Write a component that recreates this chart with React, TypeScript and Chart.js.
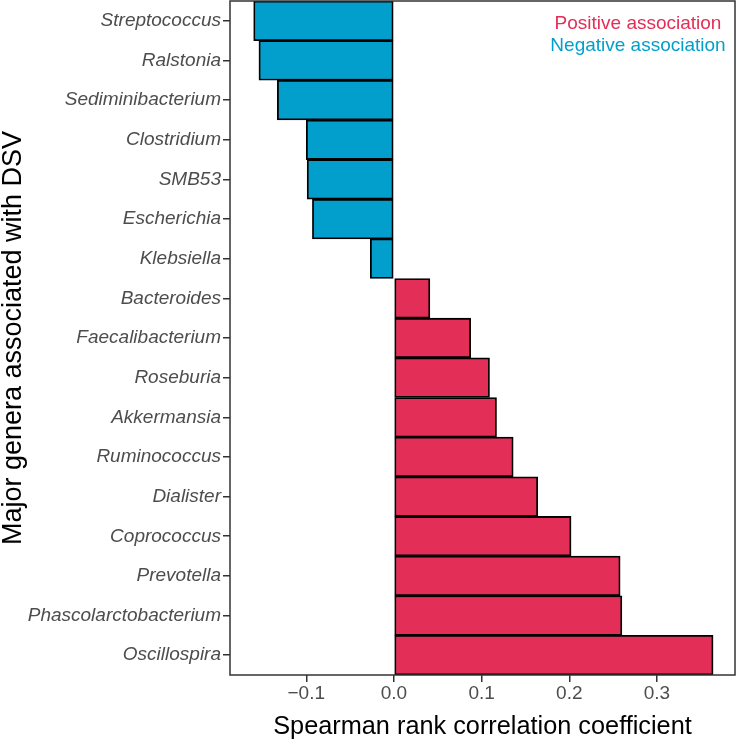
import React, { useEffect, useRef } from "react";
import { Chart, registerables } from "chart.js";

Chart.register(...registerables);

const genera: string[] = [
  "Streptococcus",
  "Ralstonia",
  "Sediminibacterium",
  "Clostridium",
  "SMB53",
  "Escherichia",
  "Klebsiella",
  "Bacteroides",
  "Faecalibacterium",
  "Roseburia",
  "Akkermansia",
  "Ruminococcus",
  "Dialister",
  "Coprococcus",
  "Prevotella",
  "Phascolarctobacterium",
  "Oscillospira",
];

const correlations: number[] = [
  -0.16, -0.154, -0.133, -0.1, -0.099, -0.093, -0.027, 0.041, 0.0875, 0.109,
  0.117, 0.136, 0.164, 0.202, 0.258, 0.26, 0.364,
];

const xTickValues: number[] = [-0.1, 0, 0.1, 0.2, 0.3];
const xMin = -0.187;
const xMax = 0.389;

const positiveLabel = "Positive association";
const negativeLabel = "Negative association";
const xTitle = "Spearman rank correlation coefficient";
const yTitle = "Major genera associated with DSV";

const POS_COLOR = "#E32E57";
const NEG_COLOR = "#039FCC";
const FONT = "'Liberation Sans', Arial, Helvetica, sans-serif";

const panelPlugin = {
  id: "panelBorder",
  afterDatasetsDraw(chart: any) {
    const { ctx, chartArea } = chart;
    ctx.save();
    ctx.strokeStyle = "#333333";
    ctx.lineWidth = 1.5;
    ctx.strokeRect(
      chartArea.left,
      chartArea.top,
      chartArea.right - chartArea.left,
      chartArea.bottom - chartArea.top
    );
    ctx.restore();
  },
};

const legendPlugin = {
  id: "textLegend",
  afterDraw(chart: any) {
    const { ctx, chartArea } = chart;
    ctx.save();
    ctx.font = `19px ${FONT}`;
    ctx.textAlign = "center";
    ctx.textBaseline = "middle";
    const cx = chartArea.right - 97;
    ctx.fillStyle = POS_COLOR;
    ctx.fillText(positiveLabel, cx, chartArea.top + 23);
    ctx.fillStyle = NEG_COLOR;
    ctx.fillText(negativeLabel, cx, chartArea.top + 45);
    ctx.restore();
  },
};

export default function App() {
  const ref = useRef<HTMLCanvasElement | null>(null);

  useEffect(() => {
    document.body.style.margin = "0";
    if (!ref.current) return;
    const chart = new Chart(ref.current, {
      type: "bar",
      data: {
        labels: genera,
        datasets: [
          {
            data: correlations,
            backgroundColor: correlations.map((v) => (v >= 0 ? POS_COLOR : NEG_COLOR)),
            borderColor: "#000000",
            borderWidth: 1.8,
            borderSkipped: false,
            barPercentage: 1,
            categoryPercentage: 1,
          },
        ],
      },
      options: {
        indexAxis: "y",
        responsive: false,
        animation: false,
        devicePixelRatio: 1,
        layout: { padding: { top: 1, right: 3, left: 0, bottom: 0 } },
        plugins: {
          legend: { display: false },
          tooltip: { enabled: false },
        },
        scales: {
          x: {
            type: "linear",
            min: xMin,
            max: xMax,
            afterBuildTicks: (scale: any) => {
              scale.ticks = xTickValues.map((value) => ({ value }));
            },
            afterFit: (scale: any) => {
              scale.height = 66;
              scale.paddingRight = 0;
              scale.paddingLeft = 0;
            },
            border: { display: false },
            grid: {
              drawOnChartArea: false,
              drawTicks: true,
              tickLength: 7,
              color: "#333333",
              lineWidth: 1.5,
            },
            ticks: {
              color: "#4D4D4D",
              font: { family: FONT, size: 19 },
              padding: 0,
              maxRotation: 0,
              callback: (v: any) => {
                const n = Number(v);
                return n < 0 ? "\u2212" + Math.abs(n).toFixed(1) : n.toFixed(1);
              },
            },
            title: {
              display: true,
              text: xTitle,
              color: "#000000",
              font: { family: FONT, size: 25.3, lineHeight: 1 },
              padding: { top: 0, bottom: 1.5 },
            },
          },
          y: {
            type: "category",
            afterFit: (scale: any) => {
              scale.width = 230;
              scale.paddingTop = 0;
              scale.paddingBottom = 0;
            },
            border: { display: false },
            grid: {
              offset: false,
              drawOnChartArea: false,
              drawTicks: true,
              tickLength: 7,
              color: "#333333",
              lineWidth: 1.5,
            },
            ticks: {
              color: "#4D4D4D",
              font: { family: FONT, size: 19, style: "italic" },
              padding: 2,
              autoSkip: false,
            },
            title: {
              display: true,
              text: yTitle,
              color: "#000000",
              font: { family: FONT, size: 27, lineHeight: 1 },
              padding: { top: 0, bottom: 0 },
            },
          },
        },
      },
      plugins: [panelPlugin, legendPlugin],
    });
    return () => chart.destroy();
  }, []);

  return (
    <div style={{ width: 738, height: 741 }}>
      <canvas ref={ref} width={738} height={741} />
    </div>
  );
}
